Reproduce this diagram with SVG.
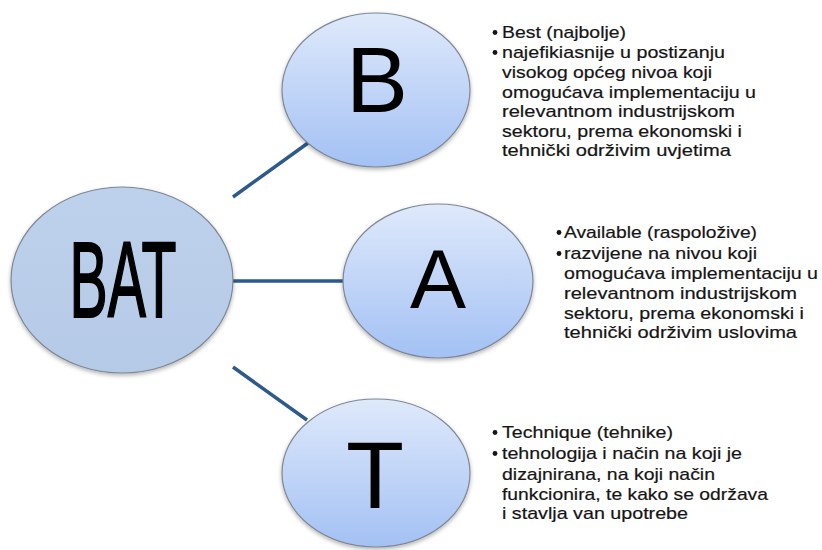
<svg xmlns="http://www.w3.org/2000/svg" width="822" height="550" viewBox="0 0 822 550">
<defs>
<linearGradient id="gLetter" x1="0" y1="0" x2="0" y2="1">
<stop offset="0" stop-color="#dfe9fb"/>
<stop offset="1" stop-color="#a3c1f4"/>
</linearGradient>
<linearGradient id="gBat" x1="0" y1="0" x2="0" y2="1">
<stop offset="0" stop-color="#bed1ec"/>
<stop offset="1" stop-color="#b5cae7"/>
</linearGradient>
<filter id="sh" x="-10%" y="-10%" width="120%" height="125%">
<feGaussianBlur in="SourceAlpha" stdDeviation="2"/>
<feOffset dx="0" dy="2" result="b"/>
<feComponentTransfer><feFuncA type="linear" slope="0.3"/></feComponentTransfer>
<feMerge><feMergeNode/><feMergeNode in="SourceGraphic"/></feMerge>
</filter>
</defs>
<style>
.node{stroke:#7d8794;stroke-width:1.2}
.big{font-family:"Liberation Sans",Arial,sans-serif;fill:#000;text-anchor:middle}
.txt{font-family:"Liberation Sans",Arial,sans-serif;font-size:17px;fill:#151515;stroke:#151515;stroke-width:0.2}
.bul{fill:#151515}
.con{stroke:#2d5a8c;stroke-width:3.5;fill:none;stroke-linecap:butt}
</style>
<g id="connectors">
<line class="con" x1="233" y1="197" x2="308" y2="143"/>
<line class="con" x1="233" y1="281" x2="344" y2="281"/>
<line class="con" x1="233" y1="367" x2="307" y2="420"/>
</g>
<g id="node-bat">
<ellipse class="node" cx="122" cy="280" rx="111" ry="93" fill="url(#gBat)" filter="url(#sh)"/>
<text class="big" x="123" y="317" font-size="108" textLength="107" lengthAdjust="spacingAndGlyphs" stroke="#000" stroke-width="2">BAT</text>
</g>
<g id="node-b">
<ellipse class="node" cx="376" cy="90" rx="94" ry="77" fill="url(#gLetter)" filter="url(#sh)"/>
<text class="big" x="377" y="112" font-size="93">B</text>
</g>
<g id="node-a">
<ellipse class="node" cx="438" cy="281" rx="95" ry="77" fill="url(#gLetter)" filter="url(#sh)"/>
<text class="big" x="438" y="308" font-size="84">A</text>
</g>
<g id="node-t">
<ellipse class="node" cx="376" cy="473" rx="94" ry="74" fill="url(#gLetter)" filter="url(#sh)"/>
<text class="big" x="375" y="508" font-size="95">T</text>
</g>
<g id="text-b">
<circle class="bul" cx="495" cy="32.5" r="2.4"/>
<circle class="bul" cx="495" cy="52.5" r="2.4"/>
<text class="txt" x="502" y="38" textLength="124" lengthAdjust="spacingAndGlyphs">Best (najbolje)</text>
<text class="txt" x="502" y="58" textLength="223" lengthAdjust="spacingAndGlyphs">najefikiasnije u postizanju</text>
<text class="txt" x="502" y="78" textLength="210" lengthAdjust="spacingAndGlyphs">visokog općeg nivoa koji</text>
<text class="txt" x="502" y="98" textLength="254" lengthAdjust="spacingAndGlyphs">omogućava implementaciju u</text>
<text class="txt" x="502" y="117" textLength="233" lengthAdjust="spacingAndGlyphs">relevantnom industrijskom</text>
<text class="txt" x="502" y="137" textLength="240" lengthAdjust="spacingAndGlyphs">sektoru, prema ekonomski i</text>
<text class="txt" x="502" y="156" textLength="229" lengthAdjust="spacingAndGlyphs">tehnički održivim uvjetima</text>
</g>
<g id="text-a">
<circle class="bul" cx="559" cy="232.5" r="2.4"/>
<circle class="bul" cx="559" cy="253.5" r="2.4"/>
<text class="txt" x="564" y="238" textLength="193" lengthAdjust="spacingAndGlyphs">Available (raspoložive)</text>
<text class="txt" x="564" y="259" textLength="193" lengthAdjust="spacingAndGlyphs">razvijene na nivou koji</text>
<text class="txt" x="564" y="279" textLength="254" lengthAdjust="spacingAndGlyphs">omogućava implementaciju u</text>
<text class="txt" x="564" y="299" textLength="233" lengthAdjust="spacingAndGlyphs">relevantnom industrijskom</text>
<text class="txt" x="564" y="319" textLength="240" lengthAdjust="spacingAndGlyphs">sektoru, prema ekonomski i</text>
<text class="txt" x="564" y="338" textLength="233" lengthAdjust="spacingAndGlyphs">tehnički održivim uslovima</text>
</g>
<g id="text-t">
<circle class="bul" cx="495" cy="432.5" r="2.4"/>
<circle class="bul" cx="495" cy="453.5" r="2.4"/>
<text class="txt" x="502" y="438" textLength="171" lengthAdjust="spacingAndGlyphs">Technique (tehnike)</text>
<text class="txt" x="502" y="459" textLength="240" lengthAdjust="spacingAndGlyphs">tehnologija i način na koji je</text>
<text class="txt" x="502" y="480" textLength="213" lengthAdjust="spacingAndGlyphs">dizajnirana, na koji način</text>
<text class="txt" x="502" y="500" textLength="266" lengthAdjust="spacingAndGlyphs">funkcionira, te kako se održava</text>
<text class="txt" x="502" y="519" textLength="186" lengthAdjust="spacingAndGlyphs">i stavlja van upotrebe</text>
</g>
</svg>
